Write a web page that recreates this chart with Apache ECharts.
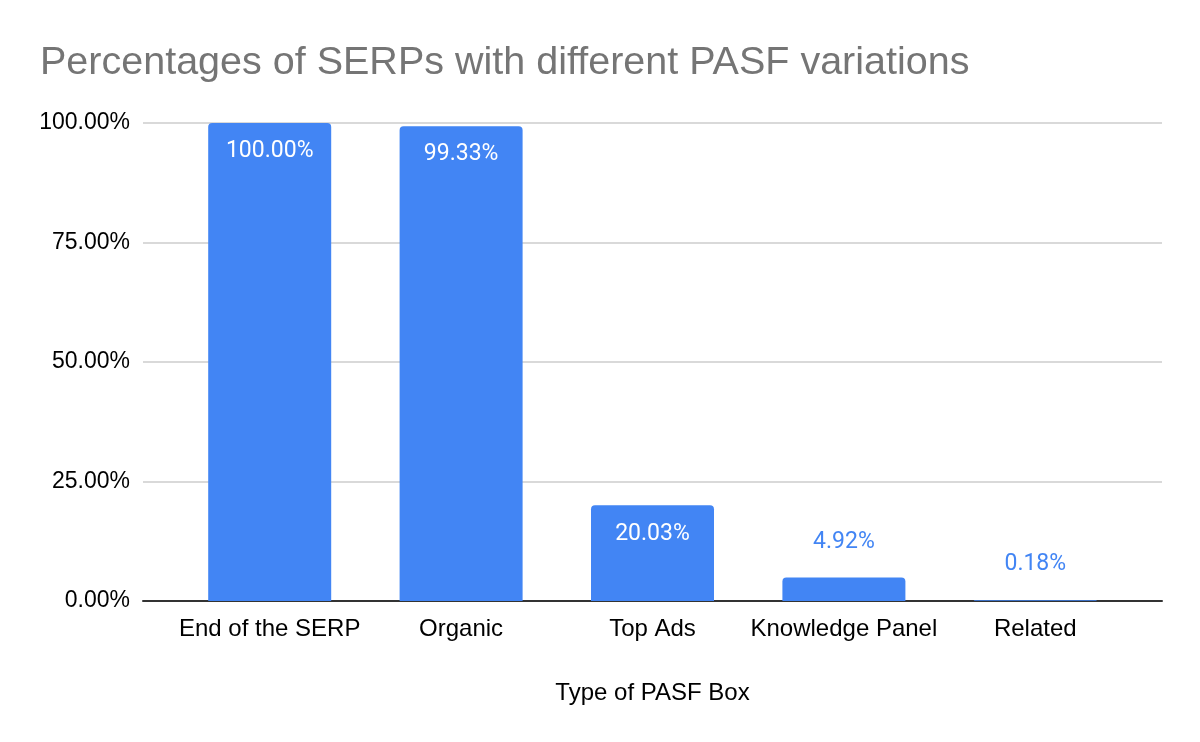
<!DOCTYPE html>
<html><head><meta charset="utf-8">
<script src="https://cdn.jsdelivr.net/npm/echarts@6/dist/echarts.min.js"></script>
<style>html,body{margin:0;padding:0;background:#fff}#c{width:1200px;height:742px}</style>
</head><body><div id="c"></div>
<script>
const categories = ["End of the SERP", "Organic", "Top Ads", "Knowledge Panel", "Related"];
const values = [100, 99.33, 20.03, 4.92, 0.18];
const yTicks = [0, 25, 50, 75, 100];

const chart = echarts.init(document.getElementById('c'));
const gridTop = 123, gridBottom = 141;
const sans = "'Liberation Sans', Arial, sans-serif";
const barData = values.map(v => {
  const inside = v > 10;
  return {
    value: v,
    label: {
      show: true,
      position: inside ? 'insideTop' : 'top',
      distance: inside ? 17 : 24,
      color: inside ? '#ffffff' : '#4285f4',
      fontFamily: 'Roboto',
      fontSize: 23,
      formatter: p => p.value.toFixed(2) + '%'
    }
  };
});
chart.setOption({
  animation: false,
  title: {
    text: 'Percentages of SERPs with different PASF variations',
    left: 35, top: 38,
    textStyle: {fontFamily: sans, fontSize: 39.5, fontWeight: 'normal', color: '#757575'}
  },
  grid: [
    {left: 143, right: 38, top: gridTop, bottom: gridBottom},
    {left: 174, right: 69, top: gridTop, bottom: gridBottom}
  ],
  xAxis: [
    {gridIndex: 0, type: 'category', data: [''], axisLine: {show: true, lineStyle: {color: '#333', width: 2}},
     axisTick: {show: false}, axisLabel: {show: false},
     name: 'Type of PASF Box', nameLocation: 'middle', nameGap: 80,
     nameTextStyle: {fontFamily: sans, fontSize: 24, color: '#000'}},
    {gridIndex: 1, type: 'category', data: categories, axisLine: {show: false}, axisTick: {show: false},
     axisLabel: {fontFamily: sans, fontSize: 24, color: '#000', margin: 16, interval: 0}}
  ],
  yAxis: [
    {gridIndex: 0, type: 'value', min: 0, max: 100, interval: 25,
     axisLine: {show: false}, axisTick: {show: false},
     splitLine: {lineStyle: {color: '#cccccc', width: 1.5}},
     axisLabel: {fontFamily: sans, fontSize: 23, color: '#000', margin: 13, padding: [5, 0, 0, 0],
       formatter: v => yTicks.includes(v) ? v.toFixed(2) + '%' : ''}},
    {gridIndex: 1, type: 'value', min: 0, max: 100, interval: 25, show: false, splitLine: {show: false}}
  ],
  series: [
    {type: 'bar', xAxisIndex: 1, yAxisIndex: 1, data: barData, barWidth: 123,
     itemStyle: {color: '#4285f4', borderRadius: [4, 4, 0, 0]}, z: 3}
  ]
});
</script></body></html>
